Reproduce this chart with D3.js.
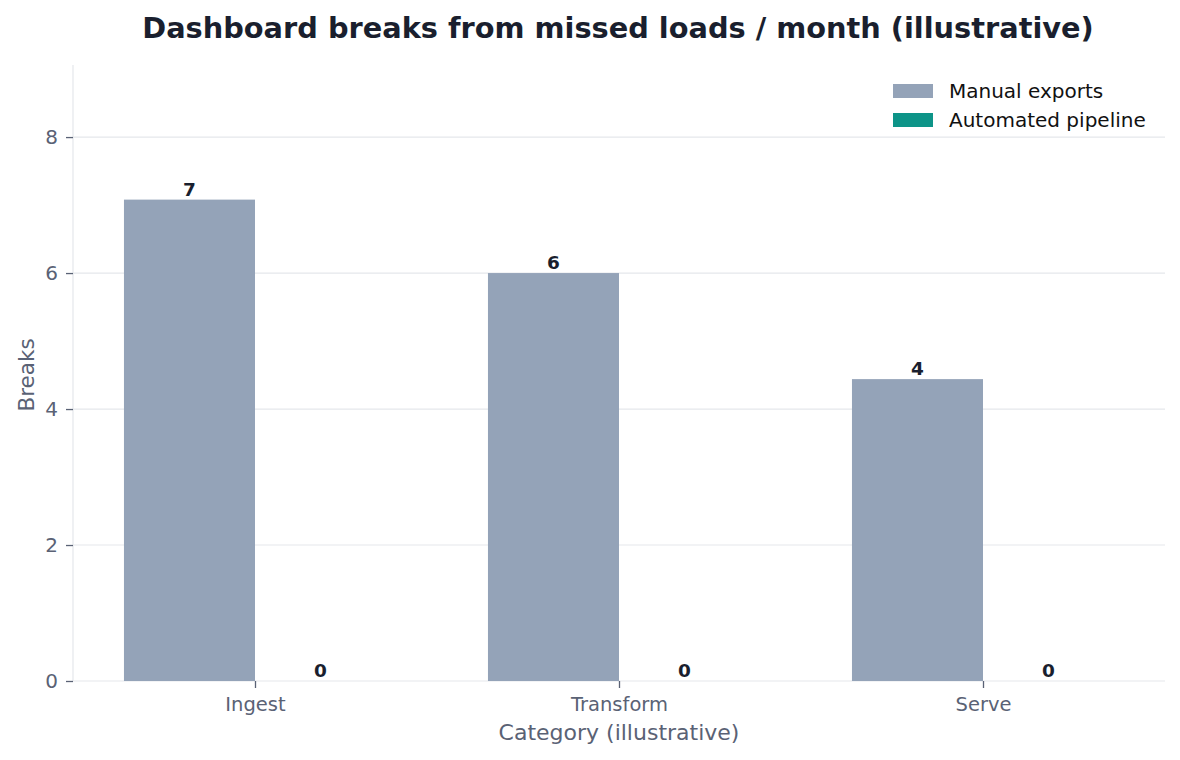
<!DOCTYPE html>
<html><head><meta charset="utf-8">
<script src="https://cdn.jsdelivr.net/npm/d3@7"></script>
<style>body{margin:0;background:#fff}svg{display:block;font-family:"DejaVu Sans",sans-serif}</style>
</head><body>
<svg id="c" width="1180" height="760"></svg>
<script>
const categories = ["Ingest", "Transform", "Serve"];
const seriesNames = ["Manual exports", "Automated pipeline"];
const manualValues = [7.08, 6.0, 4.44];
const automatedValues = [0, 0, 0];
const yTicks = [0, 2, 4, 6, 8];
const colors = ["#94a3b8", "#0d9488"];

const svg = d3.select("#c");
const m = {l:73, r:1165, t:65, b:681};
const x = d3.scalePoint().domain(categories).range([m.l, m.r]).padding(0.5);
const step = x.step();
const bw = step * 0.36;
const y = d3.scaleLinear().domain([0, 9.06]).range([m.b, m.t]);

// grid
svg.append("g").selectAll("line").data(yTicks.filter(d=>d>0)).join("line")
  .attr("x1", m.l).attr("x2", m.r).attr("y1", d=>y(d)).attr("y2", d=>y(d))
  .attr("stroke", "#e5e7eb").attr("stroke-width", 1.2);

// spines
svg.append("line").attr("x1", m.l).attr("x2", m.l).attr("y1", m.t).attr("y2", m.b).attr("stroke", "#e5e7eb").attr("stroke-width", 1.2);
svg.append("line").attr("x1", m.l).attr("x2", m.r).attr("y1", m.b).attr("y2", m.b).attr("stroke", "#e5e7eb").attr("stroke-width", 1.2);

const series = [manualValues, automatedValues];
series.forEach((vals, si) => {
  const g = svg.append("g");
  g.selectAll("rect").data(categories).join("rect")
    .attr("x", c => x(c) + (si === 0 ? -bw : 0))
    .attr("width", bw)
    .attr("y", (c,i) => y(vals[i]))
    .attr("height", (c,i) => y(0) - y(vals[i]))
    .attr("fill", colors[si]);
  g.selectAll("text").data(categories).join("text")
    .attr("x", c => x(c) + (si === 0 ? -bw/2 : bw/2))
    .attr("y", (c,i) => y(vals[i]) - 4)
    .attr("text-anchor", "middle")
    .attr("font-size", 18.5).attr("font-weight", "bold").attr("fill", "#1a1f2e")
    .text((c,i) => Math.round(vals[i]));
});

// y axis
const ya = d3.axisLeft(y).tickValues(yTicks).tickSize(7).tickPadding(8).tickFormat(d3.format("d"));
const yg = svg.append("g").attr("transform", `translate(${m.l},0)`).call(ya);
yg.select(".domain").remove();
yg.selectAll(".tick line").attr("stroke", "#5a6275").attr("stroke-width", 1.3);
yg.selectAll(".tick text").attr("font-size", 20).attr("fill", "#5a6275").attr("font-family", "DejaVu Sans");

// x axis
const xa = d3.axisBottom(x).tickSize(7).tickPadding(9);
const xg = svg.append("g").attr("transform", `translate(0,${m.b})`).call(xa);
xg.select(".domain").remove();
xg.selectAll(".tick line").attr("stroke", "#5a6275").attr("stroke-width", 1.3);
xg.selectAll(".tick text").attr("font-size", 19.5).attr("fill", "#5a6275").attr("font-family", "DejaVu Sans");

// labels
svg.append("text").attr("x", (m.l+m.r)/2).attr("y", 740).attr("text-anchor", "middle")
  .attr("font-size", 22).attr("fill", "#5a6275").text("Category (illustrative)");
svg.append("text").attr("transform", `translate(34,${(m.t+m.b)/2 + 2}) rotate(-90)`).attr("text-anchor", "middle")
  .attr("font-size", 21.5).attr("fill", "#5a6275").text("Breaks");
svg.append("text").attr("x", 618).attr("y", 38).attr("text-anchor", "middle")
  .attr("font-size", 28.8).attr("font-weight", "bold").attr("fill", "#1a1f2e")
  .text("Dashboard breaks from missed loads / month (illustrative)");

// legend
const lg = svg.append("g").attr("transform", "translate(893,84)");
seriesNames.forEach((n, i) => {
  lg.append("rect").attr("x", 0).attr("y", i*29).attr("width", 40).attr("height", 14).attr("fill", colors[i]);
  lg.append("text").attr("x", 56).attr("y", i*29 + 14).attr("font-size", 20).attr("fill", "#111").text(n);
});
</script>
</body></html>
